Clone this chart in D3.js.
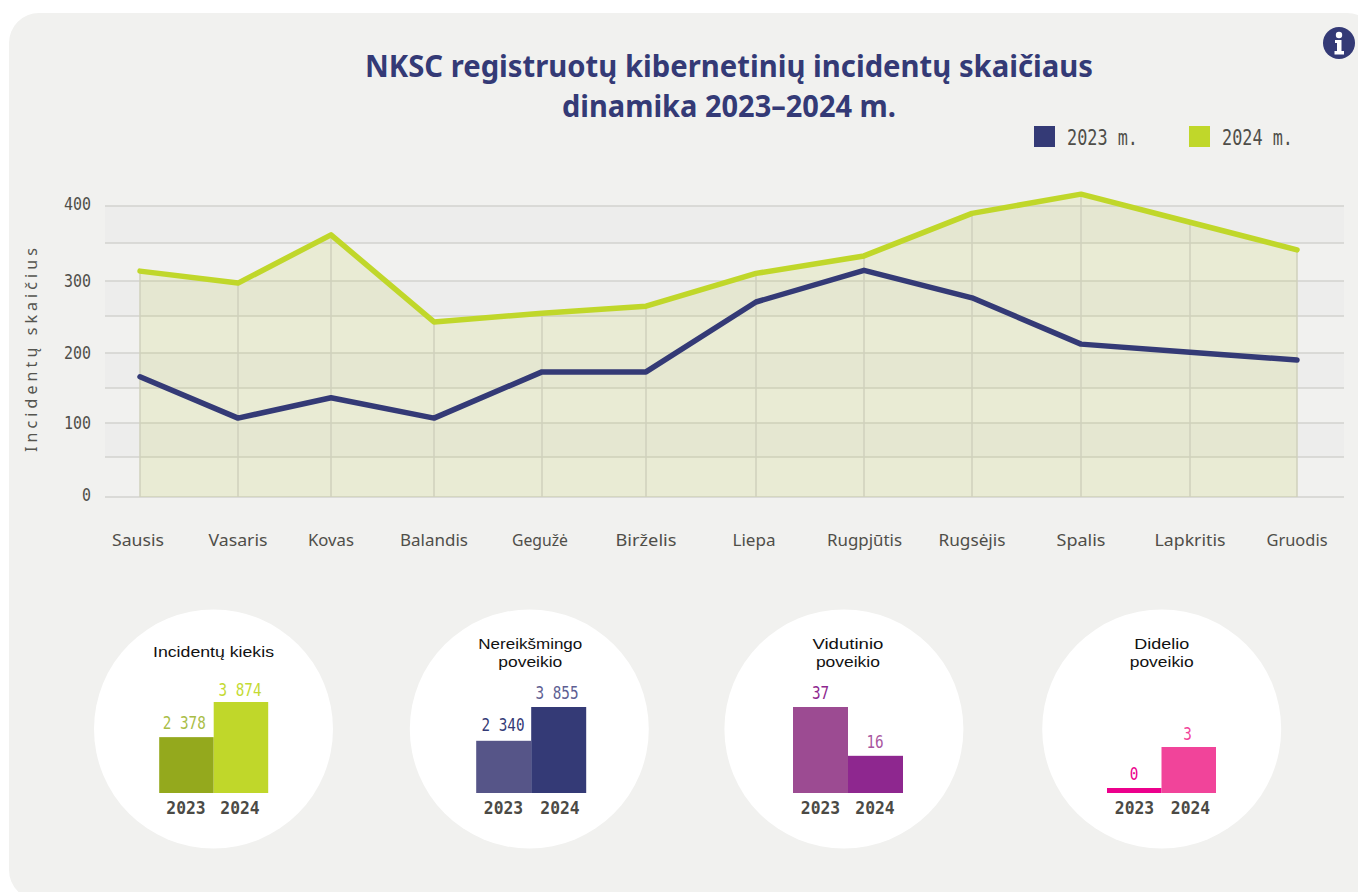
<!DOCTYPE html>
<html lang="lt">
<head>
<meta charset="utf-8">
<script src="https://cdn.jsdelivr.net/npm/d3@7"></script>
<style>
html,body{margin:0;padding:0;background:#fff;overflow:hidden}
svg{display:block}
.mono{font-family:"DejaVu Sans Mono",monospace}
.sans{font-family:"Noto Sans",sans-serif}
.ttl{font-family:"Liberation Sans",sans-serif}
</style>
</head>
<body>
<div id="chart"></div>
<script>
// ---- data ----
const months = ["Sausis","Vasaris","Kovas","Balandis","Gegužė","Birželis","Liepa","Rugpjūtis","Rugsėjis","Spalis","Lapkritis","Gruodis"];
const values2023 = [166,107,136,107,173,173,270,314,276,212,201,190];
const values2024 = [313,297,361,242,254,264,310,333,390,416,378,341];
const yTicks = [0,100,200,300,400];
const yGrid = [0,50,100,150,200,250,300,350,400];
const legendLabels = ["2023 m.","2024 m."];
const titleLines = ["NKSC registruotų kibernetinių incidentų skaičiaus","dinamika 2023–2024 m."];
const yAxisTitle = "Incidentų skaičius";
const panelTitles = [["Incidentų kiekis"],["Nereikšmingo","poveikio"],["Vidutinio","poveikio"],["Didelio","poveikio"]];
const panelYears = ["2023","2024"];
const panel1Values = [2378,3874];
const panel2Values = [2340,3855];
const panel3Values = [37,16];
const panel4Values = [0,3];
const panel1Labels = ["2 378","3 874"];
const panel2Labels = ["2 340","3 855"];
const panel3Labels = ["37","16"];
const panel4Labels = ["0","3"];

// ---- layout & style ----
const W = 1358, H = 892;
const navy = "#343a76", lime = "#c0d72a";
const monthX = [140,238,331,434,542,646,756,864,972,1081,1190,1297];
const gridY = [497,457,423,388,353,316,281,243,206];
const monthW = [52,59,46,68,56,61,43,75,67,49,71,61];
const panelStyles = [
  {cx:213.5, x0:159.2, bw:54.5, top:702, bars:["#94a91d",lime], text:["#a9bd46","#c4da33"], yearX:[186,240], labelX:[184.3,240], gap:[8,6.3], titleW:[121], titleY:[657], max:3874, minH:0},
  {cx:529.3, x0:476.2, bw:55, top:707, bars:["#565588",navy], text:[navy,"#5d5e92"], yearX:[503.5,560], labelX:[503,557], gap:[9.8,8], titleW:[104,64], titleY:[649,667], max:3855, minH:0},
  {cx:843.9, x0:793, bw:55, top:707, bars:["#9c4b92","#8e278f"], text:["#8e278f","#a9569f"], yearX:[820.5,875], labelX:[820.5,875], gap:[8,8], titleW:[71,64], titleY:[649,667], max:37, minH:0},
  {cx:1161.7, x0:1107, bw:54.5, top:747, bars:["#ec008c","#f1449a"], text:["#ec008c","#f1449a"], yearX:[1134.5,1190.5], labelX:[1134,1187.5], gap:[8,7.3], titleW:[55,64], titleY:[649,667], max:3, minH:5}
];
const panelValues = [panel1Values,panel2Values,panel3Values,panel4Values];
const panelLabels = [panel1Labels,panel2Labels,panel3Labels,panel4Labels];

const svg = d3.select("#chart").append("svg").attr("width",W).attr("height",H).attr("viewBox",`0 0 ${W} ${H}`);

// card
svg.append("rect").attr("x",9).attr("y",13).attr("width",1368).attr("height",887).attr("rx",30).attr("ry",30).attr("fill","#f1f1ef");

// scales
const x = d3.scaleOrdinal().domain(months).range(monthX);
const y = d3.scaleLinear().domain(yGrid).range(gridY);

const left = 105, right = 1344;

// bands
svg.append("g").selectAll("rect").data(d3.pairs(yGrid)).join("rect")
  .attr("x",left).attr("width",right-left)
  .attr("y",d=>y(d[1])).attr("height",d=>y(d[0])-y(d[1]))
  .attr("fill",(d,i)=>i%2===1?"#ededec":"#f1f1ef");

// grid lines
svg.append("g").selectAll("line").data(yGrid).join("line")
  .attr("x1",left).attr("x2",right).attr("y1",d=>y(d)).attr("y2",d=>y(d))
  .attr("stroke","#d2d2cf").attr("stroke-width",1.5);

// area
const area = d3.area().x((d,i)=>x(months[i])).y0(y(0)).y1(d=>y(d));
svg.append("path").datum(values2024).attr("d",area).attr("fill","#bcc93b").attr("fill-opacity",0.15);

// verticals
svg.append("g").selectAll("line").data(months).join("line")
  .attr("x1",d=>x(d)).attr("x2",d=>x(d))
  .attr("y1",y(0)).attr("y2",(d,i)=>y(values2024[i]))
  .attr("stroke","#cfd0bd").attr("stroke-width",1.5);

// lines
const line = d3.line().x((d,i)=>x(months[i])).y(d=>y(d));
[[values2024,lime],[values2023,navy]].forEach(([v,c])=>{
  svg.append("path").datum(v).attr("d",line).attr("fill","none").attr("stroke",c)
    .attr("stroke-width",5.5).attr("stroke-linejoin","round").attr("stroke-linecap","round");
});

// y axis labels
const yAxis = svg.append("g").attr("transform","translate(91,0)")
  .call(d3.axisLeft(y).tickValues(yTicks).tickSize(0).tickPadding(0).tickFormat(d3.format("d")));
yAxis.select(".domain").remove();
yAxis.selectAll("text").attr("class","mono").attr("font-size",17.5).attr("fill","#4f4e49")
  .attr("font-family",null).style("font-family",'"DejaVu Sans Mono",monospace')
  .attr("dy",d=>(d===0||d===400)?"0.2em":"0.32em")
  .attr("textLength",d=>String(d).length*9).attr("lengthAdjust","spacingAndGlyphs");

// x axis labels
const xAxis = svg.append("g").attr("transform",`translate(0,${y(0)})`)
  .call(d3.axisBottom(x).tickSize(0).tickPadding(0));
xAxis.select(".domain").remove();
xAxis.selectAll("text").style("font-family",'"Noto Sans",sans-serif').attr("font-size",17).attr("fill","#4f4e49")
  .attr("y",48.5).attr("dy",0).attr("textLength",(d,i)=>monthW[i]).attr("lengthAdjust","spacingAndGlyphs");
xAxis.selectAll(".tick").attr("transform",(d,i)=>`translate(${x(d)-(i===0?2:i===4||i===6?2:i===7?-0.5:0)},0)`);

// y axis title
svg.append("text").attr("class","sans").attr("transform","translate(36.5,452) rotate(-90)")
  .attr("font-size",16).attr("fill","#55554f").attr("textLength",204).attr("lengthAdjust","spacing").text(yAxisTitle);

// chart title
svg.append("g").selectAll("text").data(titleLines).join("text")
  .attr("class","sans").attr("text-anchor","middle").attr("font-weight",700).attr("font-size",30).attr("fill",navy)
  .attr("x",729).attr("y",(d,i)=>i?117:77)
  .attr("textLength",(d,i)=>i?334:728).attr("lengthAdjust","spacingAndGlyphs").text(d=>d);

// legend
const legendG = svg.append("g").selectAll("g").data(legendLabels).join("g")
  .attr("transform",(d,i)=>`translate(${i?1189:1034},126)`);
legendG.append("rect").attr("width",21).attr("height",21).attr("fill",(d,i)=>i?lime:navy);
legendG.append("text").attr("class","mono").attr("x",33).attr("y",19).attr("font-size",21).attr("fill","#4f4e49")
  .attr("textLength",71).attr("lengthAdjust","spacingAndGlyphs").text(d=>d);

// info icon
const info = svg.append("g").attr("transform","translate(1339,43)");
info.append("circle").attr("r",16).attr("fill",navy);
info.append("circle").attr("cy",-8).attr("r",3.2).attr("fill","#fff");
info.append("path").attr("d","M-4,-3H2.5V8H5V11.5H-4.5V8H-2V0H-4Z").attr("fill","#fff");

// panels
const base = 793;
panelStyles.forEach((p,k)=>{
  const vals = panelValues[k];
  const g = svg.append("g");
  g.append("circle").attr("cx",p.cx).attr("cy",729).attr("r",119.5).attr("fill","#fff");
  const h = d3.scaleLinear().domain([0,p.max]).range([base-p.minH,p.top]);
  const bx = d3.scaleBand().domain(panelYears).range([p.x0,p.x0+2*p.bw]);
  g.selectAll("rect").data(vals).join("rect")
    .attr("x",(d,i)=>bx(panelYears[i])).attr("width",bx.bandwidth())
    .attr("y",d=>h(d)).attr("height",d=>base-h(d))
    .attr("fill",(d,i)=>p.bars[i]);
  g.selectAll(".val").data(vals).join("text").attr("class","mono val").attr("text-anchor","middle")
    .attr("x",(d,i)=>p.labelX[i]).attr("y",(d,i)=>h(d)-p.gap[i]).attr("font-size",18)
    .attr("fill",(d,i)=>p.text[i])
    .attr("textLength",(d,i)=>panelLabels[k][i].length*8.6).attr("lengthAdjust","spacingAndGlyphs")
    .text((d,i)=>panelLabels[k][i]);
  g.selectAll(".yr").data(panelYears).join("text").attr("class","mono yr").attr("text-anchor","middle")
    .attr("x",(d,i)=>p.yearX[i]).attr("y",814).attr("font-size",17).attr("font-weight",700)
    .attr("fill","#4b4a45").attr("textLength",39.4).attr("lengthAdjust","spacingAndGlyphs").text(d=>d);
  g.selectAll(".ttl").data(panelTitles[k]).join("text").attr("class","ttl").attr("text-anchor","middle")
    .attr("x",p.cx+(k===1?1:k===2?4:0)).attr("y",(d,i)=>p.titleY[i]).attr("font-size",15).attr("fill","#111")
    .attr("textLength",(d,i)=>p.titleW[i]).attr("lengthAdjust","spacingAndGlyphs").text(d=>d);
});
</script>
</body>
</html>
